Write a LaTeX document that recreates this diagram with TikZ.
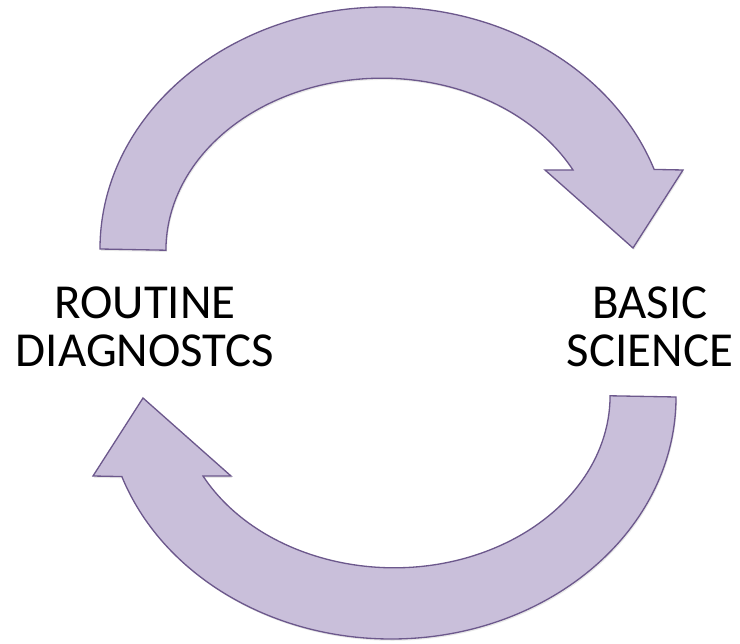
\documentclass[tikz,border=0pt]{standalone}
\usepackage{fontspec}
\setmainfont{Carlito}
\usetikzlibrary{shadows}
\definecolor{arrowfill}{RGB}{201,191,218}
\definecolor{arrowedge}{RGB}{108,88,140}
\begin{document}
\begin{tikzpicture}[x=0.02cm, y=0.02cm,
  bentarrow/.style={fill=arrowfill, draw=arrowedge, line width=0.75pt, line join=miter,
    drop shadow={opacity=0.18, shadow xshift=0.6pt, shadow yshift=-1.0pt}},
  label/.style={align=center, inner sep=0pt, anchor=north,
    font=\fontsize{27.8pt}{27.8pt}\selectfont}]
  \useasboundingbox (0,0) rectangle (740,643);

  % upper arrow: from the left label over the top to the right label
  \def\bentarrowpath{
    (100,394) arc[start angle=180, end angle=19.2, x radius=285, y radius=242]
    -- (683,473) -- (633,395) -- (545,473) -- (573,473)
    arc[start angle=27.8, end angle=180, x radius=216, y radius=172]
    -- cycle}
  \path[bentarrow] \bentarrowpath;

  % lower arrow: the same shape turned half a turn
  \path[bentarrow, rotate around={180:(388,320)}] \bentarrowpath;

  \node[label] (routine) at (145,357) {ROUTINE\\DIAGNOSTCS};
  \node[label] (basic) at (650,357) {BASIC\hspace{0.3em}\\SCIENCE};
\end{tikzpicture}
\end{document}
